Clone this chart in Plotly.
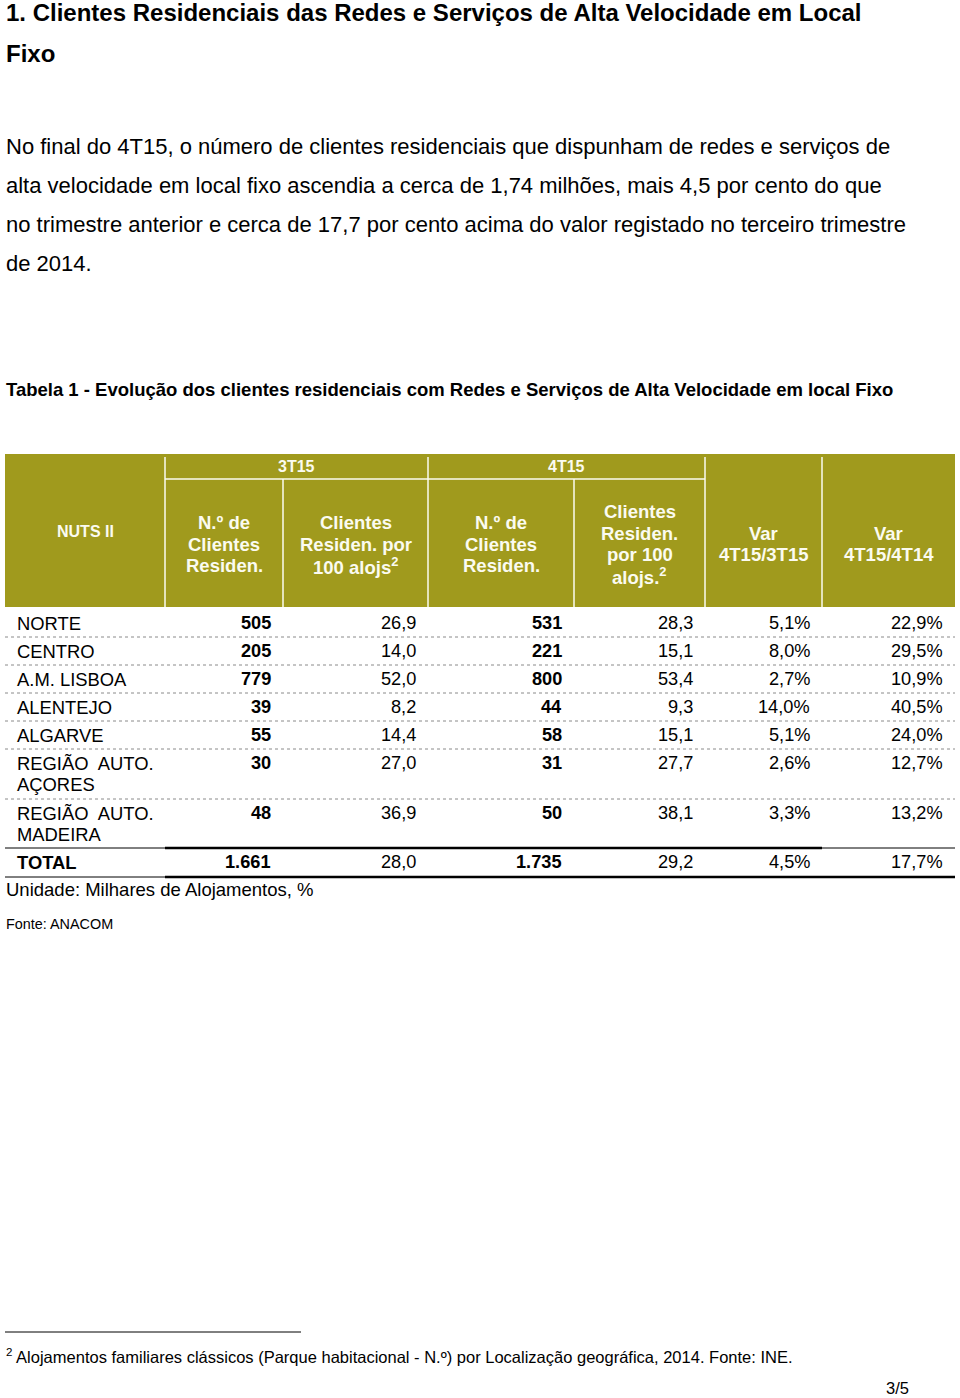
import plotly.graph_objects as go

# table data
regions = [['NORTE'], ['CENTRO'], ['A.M. LISBOA'], ['ALENTEJO'], ['ALGARVE'],
           ['REGIÃO  AUTO.', 'AÇORES'], ['REGIÃO  AUTO.', 'MADEIRA'], ['TOTAL']]
clientes_3t15 = [505, 205, 779, 39, 55, 30, 48, 1661]
per100_3t15 = [26.9, 14.0, 52.0, 8.2, 14.4, 27.0, 36.9, 28.0]
clientes_4t15 = [531, 221, 800, 44, 58, 31, 50, 1735]
per100_4t15 = [28.3, 15.1, 53.4, 9.3, 15.1, 27.7, 38.1, 29.2]
var_4t15_3t15 = [5.1, 8.0, 2.7, 14.0, 5.1, 2.6, 3.3, 4.5]
var_4t15_4t14 = [22.9, 29.5, 10.9, 40.5, 24.0, 12.7, 13.2, 17.7]

header_cols = [['NUTS II'],
               ['N.º de', 'Clientes', 'Residen.'],
               ['Clientes', 'Residen. por', '100 alojs<sup>2</sup>'],
               ['N.º de', 'Clientes', 'Residen.'],
               ['Clientes', 'Residen.', 'por 100', 'alojs.<sup>2</sup>'],
               ['Var', '4T15/3T15'],
               ['Var', '4T15/4T14']]
periods = ['3T15', '4T15']

heading = ['1. Clientes Residenciais das Redes e Serviços de Alta Velocidade em Local', 'Fixo']
paragraph = ['No final do 4T15, o número de clientes residenciais que dispunham de redes e serviços de',
             'alta velocidade em local fixo ascendia a cerca de 1,74 milhões, mais 4,5 por cento do que',
             'no trimestre anterior e cerca de 17,7 por cento acima do valor registado no terceiro trimestre',
             'de 2014.']
table_title = 'Tabela 1 - Evolução dos clientes residenciais com Redes e Serviços de Alta Velocidade em local Fixo'
unit_note = 'Unidade: Milhares de Alojamentos, %'
source_note = 'Fonte: ANACOM'
footnote = '<sup>2</sup> Alojamentos familiares clássicos (Parque habitacional - N.º) por Localização geográfica, 2014. Fonte: INE.'
page_no = '3/5'

OLIVE = '#a09a1d'
HEAD_TXT = '#fbfbf0'
FONT = 'Liberation Sans, Arial, sans-serif'
NARROW = 'Liberation Sans Narrow, Arial Narrow, Liberation Sans, sans-serif'


def fmt_int(v):
    return f'{v:,}'.replace(',', '.')


def fmt_dec(v):
    return f'{v:.1f}'.replace('.', ',')


def fmt_pct(v):
    return fmt_dec(v) + '%'


W, H = 960, 1398
col_edges = [5, 165, 283, 428, 574, 705, 822, 955]
head_top, head_mid, head_bot = 454, 479, 607
row_heights = [28, 28, 28, 28, 28, 50, 49, 29]

fig = go.Figure()
shapes = []
ann = []


def text(x, y, s, size, anchor='left', color='black', family=FONT):
    # annotations carry ~2px of padding, take it back out
    nudge = {'left': -2, 'right': 2, 'center': 0}[anchor]
    ann.append(dict(x=x + nudge, y=y, text=s, showarrow=False, xanchor=anchor, yanchor='middle',
                    align=anchor, font=dict(size=size, color=color, family=family)))


def line(x0, y0, x1, y1, color='black', width=1, dash='solid'):
    shapes.append(dict(type='line', x0=x0, y0=y0, x1=x1, y1=y1,
                       line=dict(color=color, width=width, dash=dash)))


# heading + paragraph
for i, s in enumerate(heading):
    text(6, 12 + i * 41, f'<b>{s}</b>', 24)
for i, s in enumerate(paragraph):
    text(6, 146 + i * 39, s, 22)
text(6, 389, f'<b>{table_title}</b>', 18.5)

# header block
shapes.append(dict(type='rect', x0=col_edges[0], x1=col_edges[-1], y0=head_top, y1=head_bot,
                   fillcolor=OLIVE, line=dict(width=0), layer='below'))
line(col_edges[1], head_mid, col_edges[5], head_mid, color=HEAD_TXT, width=1.5)
for i, xe in enumerate(col_edges[1:-1], start=1):
    y0 = head_mid if i in (2, 4) else head_top + 3
    line(xe, y0, xe, head_bot, color=HEAD_TXT, width=1.5)

text((col_edges[1] + col_edges[3]) / 2, 466, f'<b>{periods[0]}</b>', 16, 'center', HEAD_TXT)
text((col_edges[3] + col_edges[5]) / 2, 466, f'<b>{periods[1]}</b>', 16, 'center', HEAD_TXT)
for i, lines in enumerate(header_cols):
    cx = (col_edges[i] + col_edges[i + 1]) / 2
    size = 16 if i == 0 else 18.5
    cy = 531 if i == 0 else 544
    step = 21.5
    y0 = cy - step * (len(lines) - 1) / 2
    for k, s in enumerate(lines):
        text(cx, y0 + k * step, f'<b>{s}</b>', size, 'center', HEAD_TXT)

# body rows
cols = [(clientes_3t15, fmt_int, True), (per100_3t15, fmt_dec, False),
        (clientes_4t15, fmt_int, True), (per100_4t15, fmt_dec, False),
        (var_4t15_3t15, fmt_pct, False), (var_4t15_4t14, fmt_pct, False)]
y = head_bot + 2
n = len(regions)
for r in range(n):
    top = y
    bot = y + row_heights[r]
    is_total = r == n - 1
    ty = top + 14
    for k, s in enumerate(regions[r]):
        text(17, ty + k * 21, f'<b>{s}</b>' if is_total else s, 18.4)
    for c, (vals, f, bold) in enumerate(cols):
        s = f(vals[r])
        if bold:
            s = f'<b>{s}</b>'
        text(col_edges[c + 2] - 12, ty, s, 18.2, 'right')
    if r < n - 2:
        line(col_edges[0], bot, col_edges[-1], bot, color='#8a8a8a', width=1, dash='dot')
    elif r == n - 2:
        line(col_edges[0], bot, col_edges[1], bot, width=1)
        line(col_edges[1], bot, col_edges[6], bot, width=2.5)
        line(col_edges[6], bot, col_edges[-1], bot, width=1)
    else:
        line(col_edges[0], bot, col_edges[1], bot, width=1)
        line(col_edges[1], bot, col_edges[-1], bot, width=2.5)
    y = bot

text(6, 889, unit_note, 18.5)
text(6, 924, source_note, 14.4)

# footnote
line(5, 1332, 301, 1332, width=1)
text(6, 1356, footnote, 16.5, family=NARROW)
text(909, 1388, page_no, 16.5, 'right', family=NARROW)

fig.update_layout(
    width=W, height=H,
    margin=dict(l=0, r=0, t=0, b=0),
    paper_bgcolor='white', plot_bgcolor='white',
    xaxis=dict(range=[0, W], visible=False, fixedrange=True),
    yaxis=dict(range=[H, 0], visible=False, fixedrange=True),
    shapes=shapes, annotations=ann,
    showlegend=False,
)

# drop the default page margin so the figure sits at the window's corner
fig.write_html("out.html", config={'displayModeBar': False},
               post_script="document.body.style.margin='0';document.body.style.overflow='hidden';")
